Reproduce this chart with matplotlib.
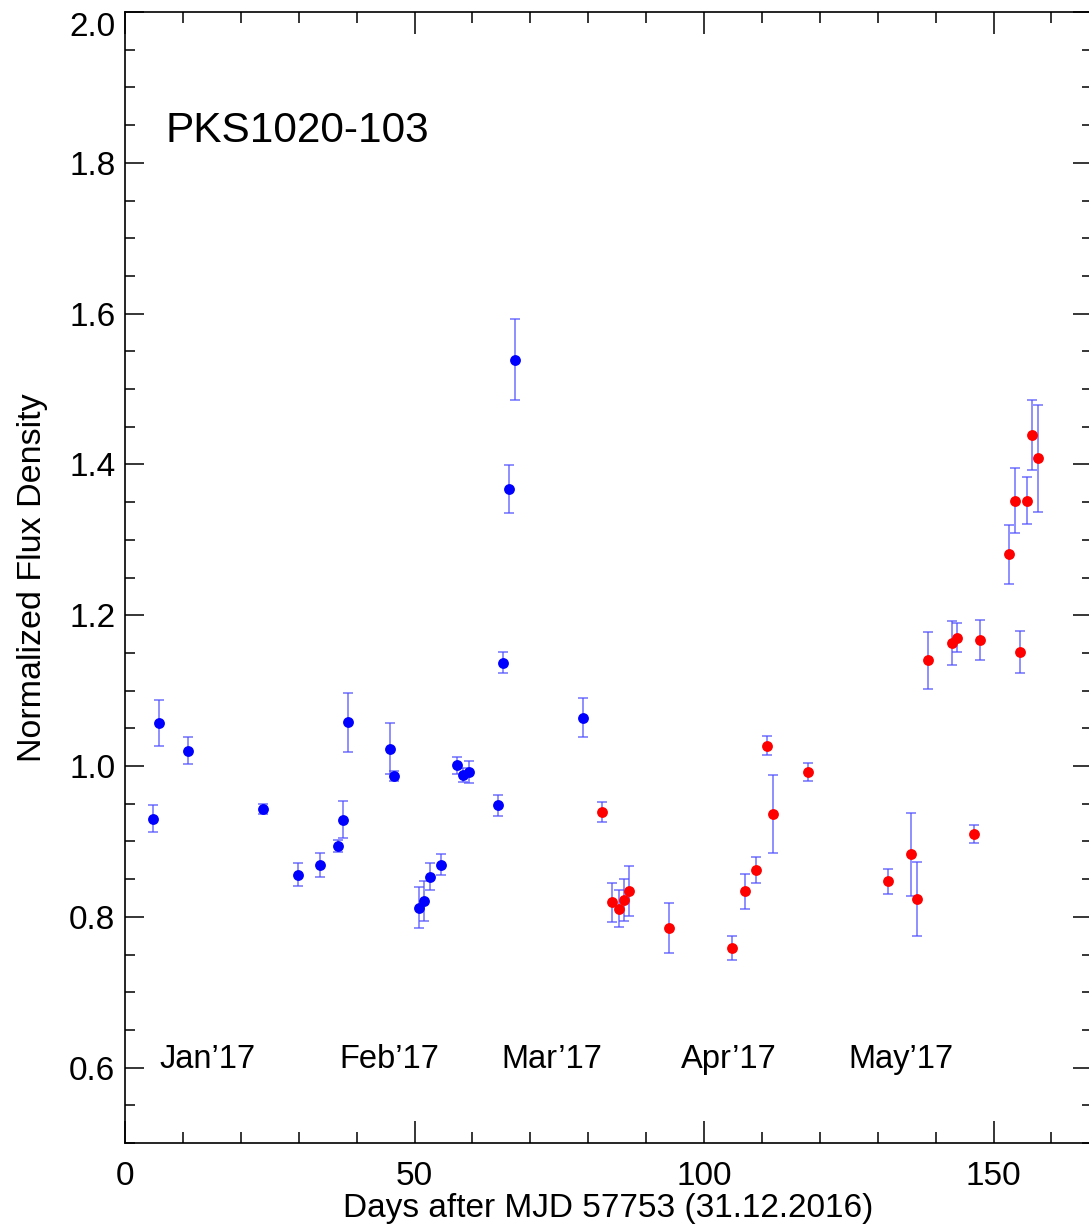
import matplotlib
matplotlib.use("Agg")
import matplotlib.pyplot as plt
from matplotlib.ticker import MultipleLocator

plt.rcParams['font.family'] = ['Liberation Sans', 'DejaVu Sans']

# ---- data ----
days_blue = [4.9, 5.9, 10.9, 23.8, 29.8, 33.7, 36.7, 37.7, 38.5, 45.7, 46.4, 50.7,
             51.6, 52.6, 54.6, 57.3, 58.3, 59.4, 64.4, 65.2, 66.3, 67.3, 79.1]
flux_blue = [0.930, 1.057, 1.020, 0.943, 0.856, 0.869, 0.894, 0.929, 1.058, 1.023,
             0.987, 0.812, 0.821, 0.853, 0.869, 1.001, 0.988, 0.992, 0.948, 1.137,
             1.367, 1.539, 1.064]
err_blue = [0.018, 0.031, 0.018, 0.006, 0.015, 0.016, 0.008, 0.024, 0.039, 0.034,
            0.007, 0.027, 0.026, 0.018, 0.014, 0.011, 0.009, 0.014, 0.014, 0.014,
            0.032, 0.054, 0.026]

days_red = [82.4, 84.1, 85.4, 86.1, 87.1, 94.0, 104.9, 107.0, 109.0, 110.9, 111.9,
            117.9, 131.8, 135.8, 136.8, 138.7, 142.8, 143.7, 146.7, 147.7, 152.7,
            153.7, 154.6, 155.7, 156.6, 157.6]
flux_red = [0.939, 0.819, 0.811, 0.822, 0.834, 0.785, 0.759, 0.834, 0.862, 1.027,
            0.936, 0.992, 0.847, 0.883, 0.824, 1.140, 1.163, 1.170, 0.910, 1.167,
            1.281, 1.352, 1.151, 1.352, 1.439, 1.408]
err_red = [0.013, 0.026, 0.024, 0.028, 0.033, 0.033, 0.016, 0.023, 0.017, 0.013,
           0.052, 0.012, 0.017, 0.055, 0.049, 0.038, 0.029, 0.019, 0.012, 0.027,
           0.039, 0.043, 0.028, 0.031, 0.046, 0.071]

month_labels = ["Jan\u201917", "Feb\u201917", "Mar\u201917", "Apr\u201917", "May\u201917"]
month_label_days = [6, 37, 65, 96, 125]

source_name = "PKS1020-103"
x_label = "Days after MJD 57753 (31.12.2016)"
y_label = "Normalized Flux Density"

# ---- figure ----
fig = plt.figure(figsize=(10.89, 12.30), dpi=100)
ax = fig.add_axes([0.11478, 0.07073, 0.88797, 0.91951])

ebar_color = (0.3, 0.3, 1.0)
for d, f, e, c in [(days_blue, flux_blue, err_blue, '#0000ff'),
                   (days_red, flux_red, err_red, '#ff0000')]:
    ax.errorbar(d, f, yerr=e, fmt='none', ecolor=ebar_color, elinewidth=1.1,
                capsize=3.9, capthick=1.1, alpha=0.8, zorder=2)
    ax.plot(d, f, 'o', color=c, markersize=7.8, markeredgewidth=0, zorder=3)

ax.set_xlim(0, 167)
ax.set_ylim(0.5, 2.0)
ax.xaxis.set_major_locator(MultipleLocator(50))
ax.xaxis.set_minor_locator(MultipleLocator(10))
ax.yaxis.set_major_locator(MultipleLocator(0.2))
ax.yaxis.set_minor_locator(MultipleLocator(0.05))
ax.yaxis.set_major_formatter(plt.FuncFormatter(lambda v, p: f"{v:.1f}"))

ax.tick_params(axis='both', which='both', direction='in', top=True, right=True,
               width=1.1, color='black', labelsize=24)
ax.tick_params(axis='x', which='major', length=15.8, pad=13)
ax.tick_params(axis='x', which='minor', length=7.9)
ax.tick_params(axis='y', which='major', length=13.7, pad=7)
ax.tick_params(axis='y', which='minor', length=7.2)
for sp in ax.spines.values():
    sp.set_linewidth(1.2)

ax.set_xlabel(x_label, fontsize=24)
ax.set_ylabel(y_label, fontsize=24.5)
ax.xaxis.set_label_coords(0.5, -0.044)
ax.xaxis.label.set_va('top')
ax.yaxis.set_label_coords(-0.0796, 0.5)

fig.canvas.draw()
for lab in ax.get_yticklabels():
    if lab.get_text() == "2.0":
        lab.set_va('top')

ax.text(0.0414, 0.885, source_name, transform=ax.transAxes, fontsize=30.5,
        ha='left', va='baseline')
for lab, xd in zip(month_labels, month_label_days):
    ax.text(xd, 0.6, lab, fontsize=23.5, ha='left', va='baseline')

fig.savefig("out.png", dpi=100)
